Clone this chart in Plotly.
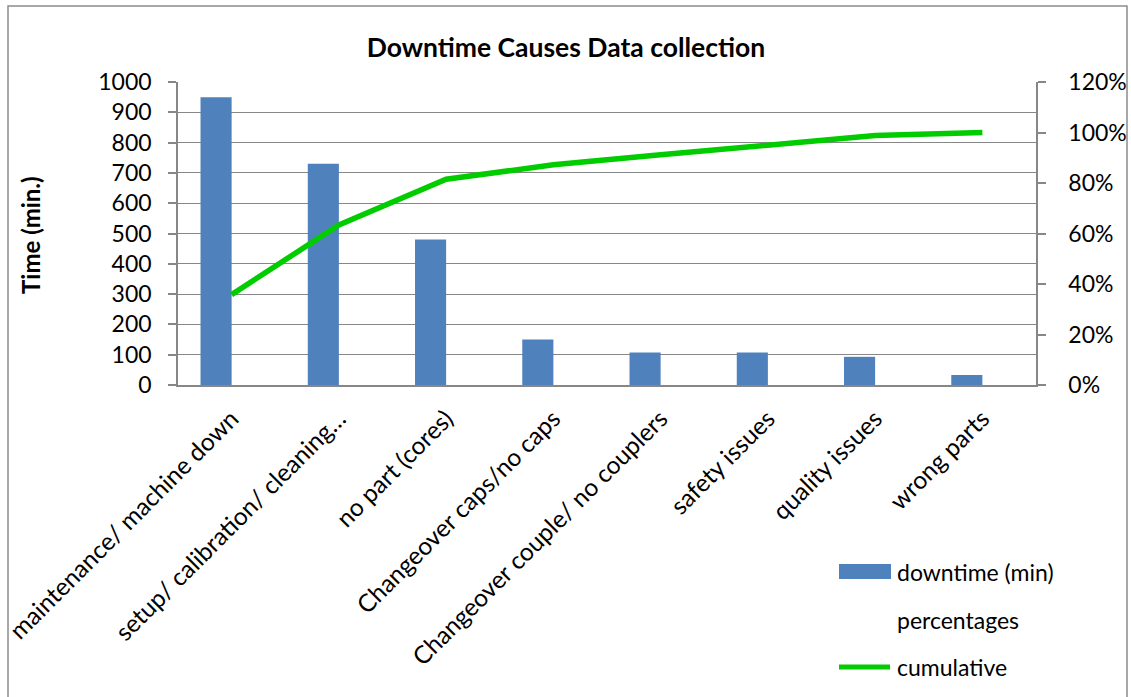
import plotly.graph_objects as go

# Downtime by cause (minutes), sorted for a Pareto view
causes = [
    "maintenance/ machine down",
    "setup/ calibration/ cleaning…",
    "no part (cores)",
    "Changeover caps/no caps",
    "Changeover couple/ no couplers",
    "safety issues",
    "quality issues",
    "wrong parts",
]
downtime = [950, 730, 480, 150, 107, 107, 93, 33]
percentages = [0.358, 0.275, 0.181, 0.057, 0.040, 0.040, 0.035, 0.012]
cumulative = [0.358, 0.634, 0.815, 0.872, 0.912, 0.952, 0.988, 1.000]

FONT = "Lato"
W, H = 1131, 697
# plot area in pixels
L, R, T, B = 178, 1036, 82, 385


def px(x):
    return (x - L) / (R - L)


def py(y):
    return (B - y) / (B - T)


BAR_COLOR = "#4F81BD"
LINE_COLOR = "#00CC00"
GRID = "#878787"

fig = go.Figure()
fig.add_trace(go.Bar(x=causes, y=downtime, name="downtime (min)",
                     marker=dict(color=BAR_COLOR, line=dict(width=0)),
                     showlegend=False))
fig.add_trace(go.Bar(x=causes, y=percentages, name="percentages",
                     marker=dict(color="rgba(0,0,0,0)", line=dict(width=0)),
                     showlegend=False))
fig.add_trace(go.Scatter(x=causes, y=cumulative, name="cumulative", yaxis="y2",
                         mode="lines", line=dict(color=LINE_COLOR, width=5.5),
                         showlegend=False))

shapes = [
    # outer chart frame
    dict(type="rect", xref="paper", yref="paper",
         x0=px(8), x1=px(1127), y0=py(720), y1=py(6),
         line=dict(color="#8C8C8C", width=1.5), fillcolor="rgba(0,0,0,0)", layer="below"),
    # legend swatches
    dict(type="rect", xref="paper", yref="paper",
         x0=px(839), x1=px(891), y0=py(579), y1=py(564),
         line=dict(width=0), fillcolor=BAR_COLOR),
    dict(type="line", xref="paper", yref="paper",
         x0=px(839), x1=px(890), y0=py(667), y1=py(667),
         line=dict(color=LINE_COLOR, width=5)),
]

legend_txt = [("downtime (min)", 572), ("percentages", 620), ("cumulative", 667)]
annotations = [
    dict(text=t, xref="paper", yref="paper", x=px(895), y=py(yy),
         xanchor="left", yanchor="middle", showarrow=False,
         font=dict(family=FONT, size=23, color="#000000"))
    for t, yy in legend_txt
]
annotations.append(dict(text="<b>Time (min.)</b>", xref="paper", yref="paper",
                        x=px(30), y=py(235), textangle=-90, showarrow=False,
                        xanchor="center", yanchor="middle",
                        font=dict(family=FONT, size=24, color="#000000")))

fig.update_layout(
    width=W, height=H,
    margin=dict(l=L, r=W - R, t=T, b=H - B, autoexpand=False),
    paper_bgcolor="white", plot_bgcolor="white",
    barmode="group", bargap=0.42, bargroupgap=0,
    title=dict(text="<b>Downtime Causes Data collection</b>",
               x=566 / W, xanchor="center", y=1 - 48 / H, yanchor="middle",
               font=dict(family=FONT, size=26.5, color="#000000")),
    font=dict(family=FONT, size=22, color="#000000"),
    xaxis=dict(tickangle=-45, showline=True, linecolor=GRID, linewidth=1.5,
               showgrid=False, ticks="", tickfont=dict(size=24.5),
               ticklabelstandoff=8, automargin=False),
    yaxis=dict(range=[0, 1000], dtick=100, showgrid=True, gridcolor=GRID,
               gridwidth=1, showline=True, linecolor=GRID, linewidth=1.5,
               ticks="outside", ticklen=8, tickcolor=GRID, tickwidth=1.5,
               zeroline=False, tickfont=dict(size=23), ticklabelstandoff=12,
               automargin=False),
    yaxis2=dict(range=[0, 1.2], dtick=0.2, tickformat=".0%", overlaying="y",
                side="right", showgrid=False, showline=True, linecolor=GRID,
                linewidth=1.5, ticks="outside", ticklen=8, tickcolor=GRID,
                tickwidth=1.5, zeroline=False, tickfont=dict(size=23),
                ticklabelstandoff=18, automargin=False),
    shapes=shapes,
    annotations=annotations,
)

fig.write_html("out.html")
